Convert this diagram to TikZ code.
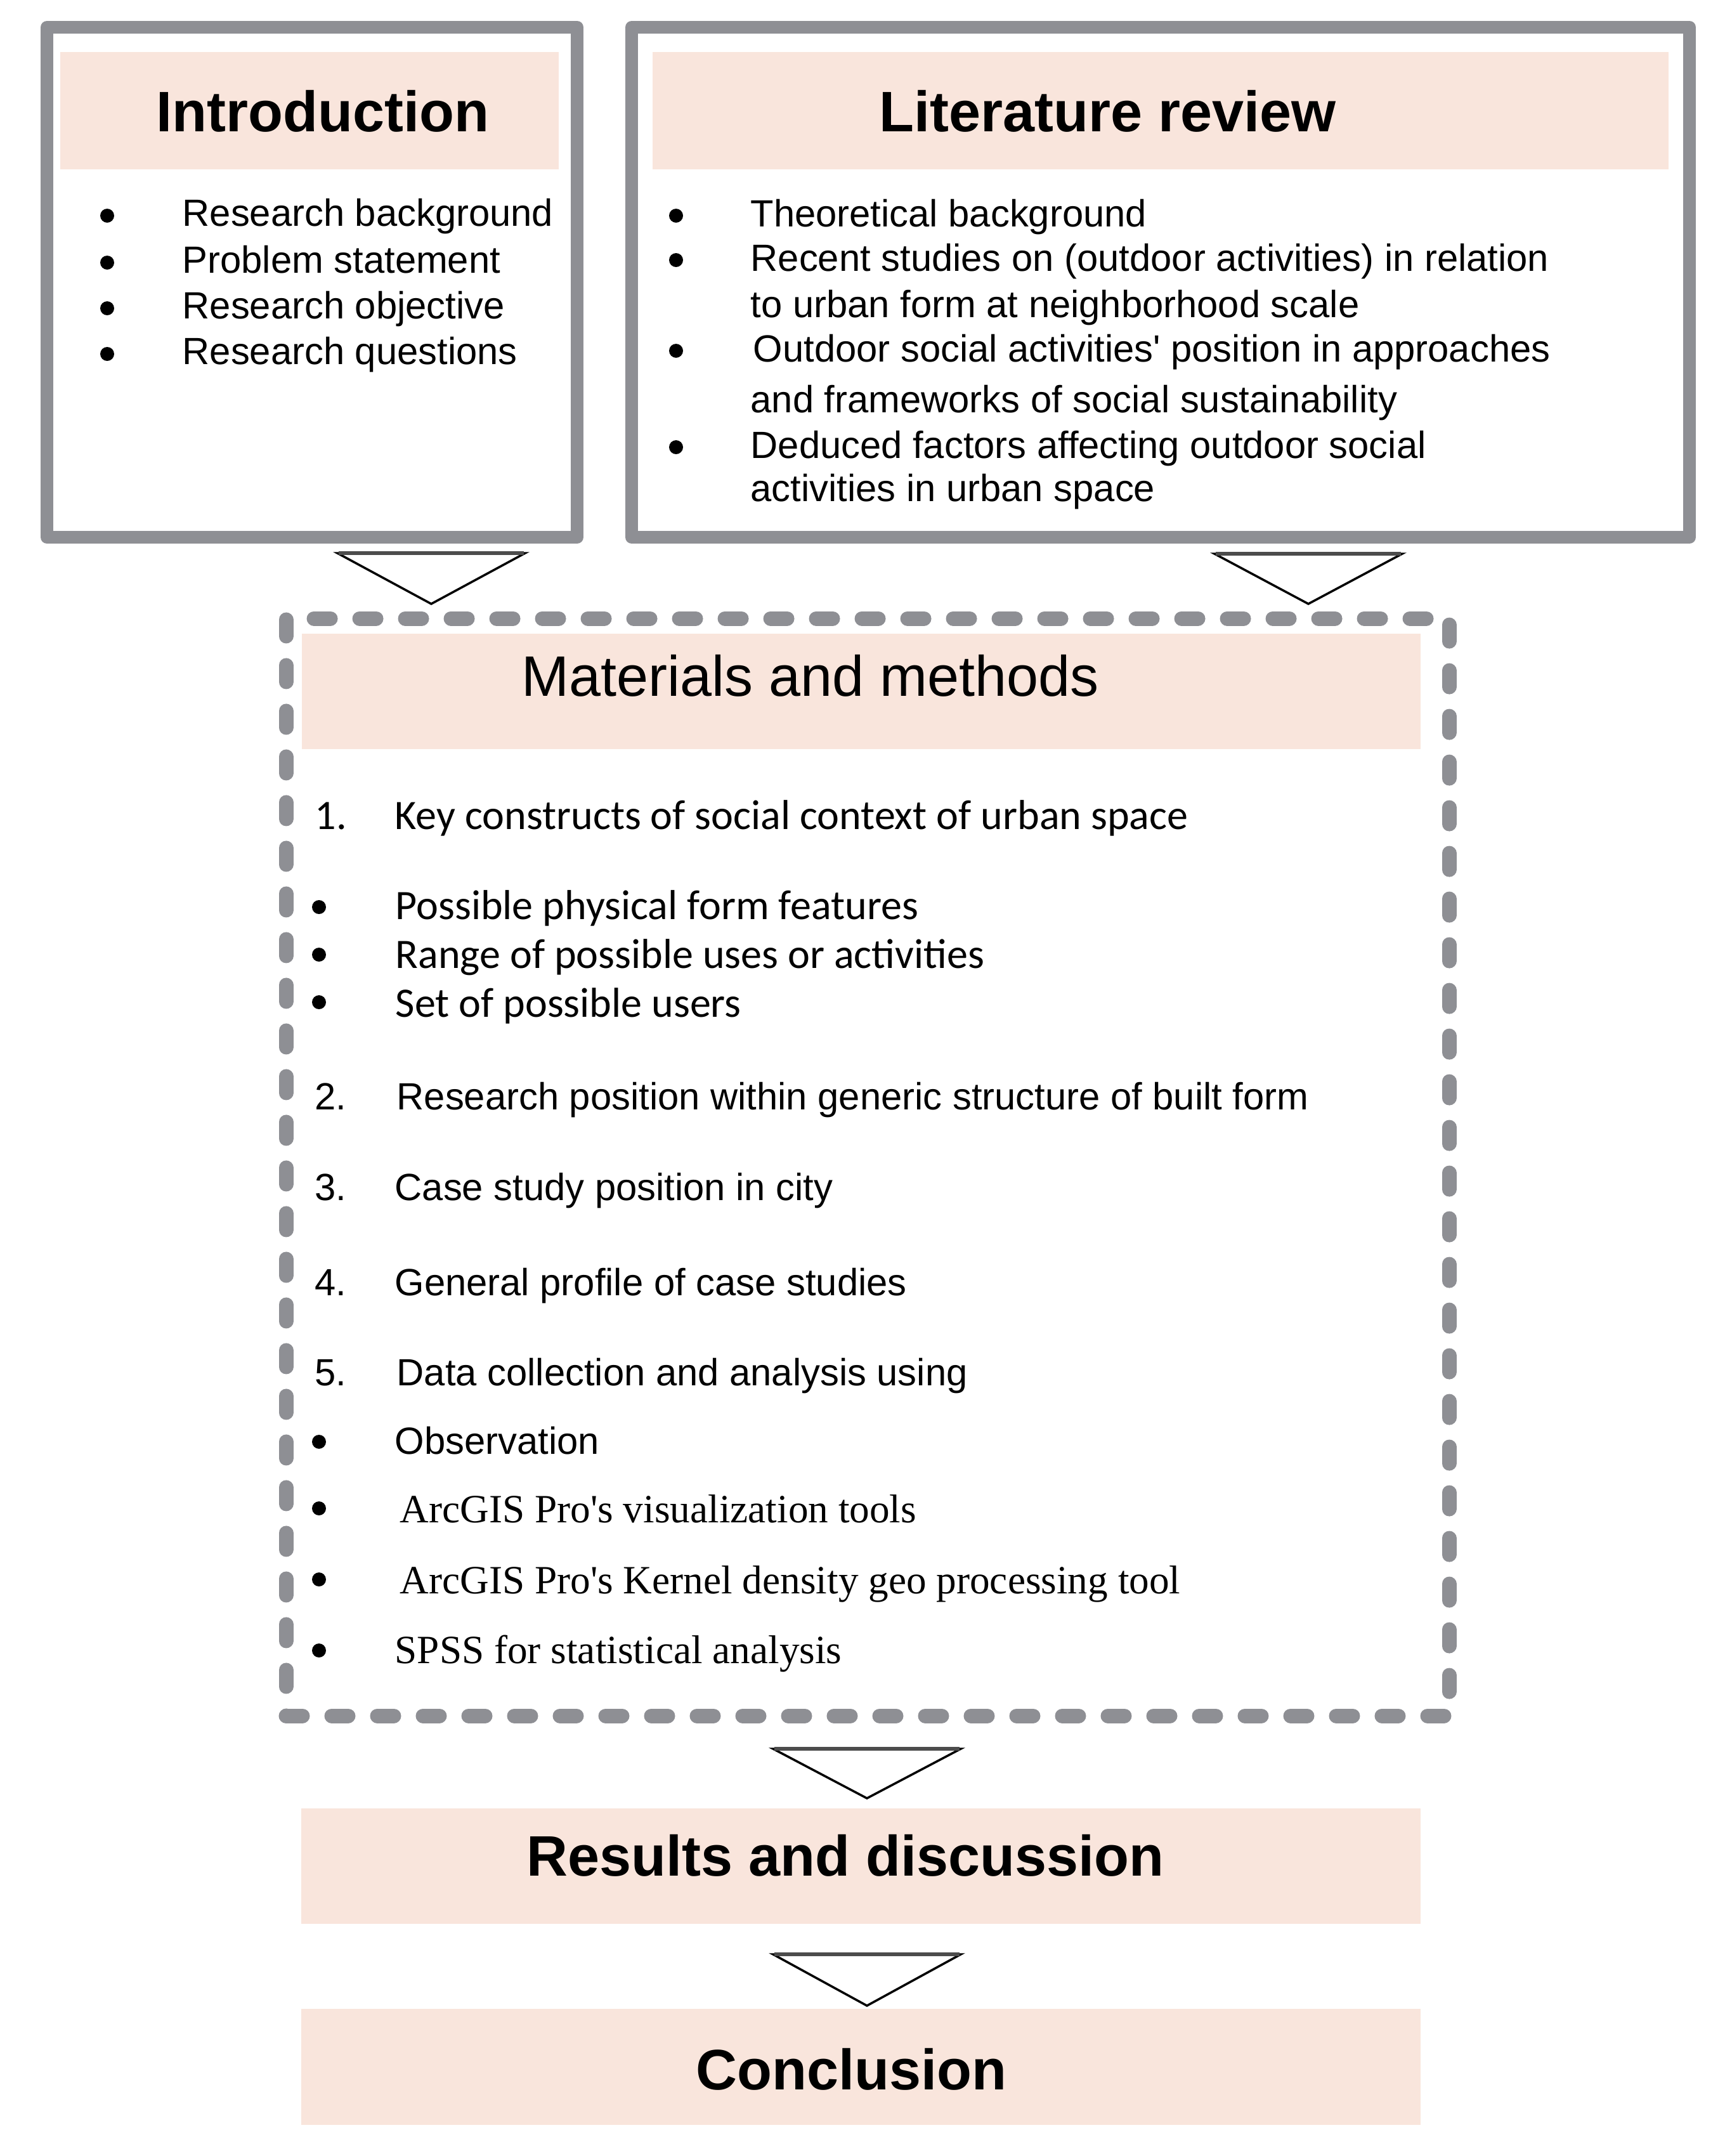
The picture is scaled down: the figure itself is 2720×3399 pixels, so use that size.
\documentclass[tikz,border=0pt]{standalone}
\usepackage{fontspec}
\setmainfont{Liberation Sans}
\newfontfamily\calibf{Carlito}
\newfontfamily\timesf{Liberation Serif}
\usetikzlibrary{calc,fit}
\definecolor{pinkbg}{RGB}{249,229,220}
\definecolor{framegray}{RGB}{142,143,148}
\begin{document}
\begin{tikzpicture}[x=0.1mm,y=-0.1mm,
  hdr/.style={fill=pinkbg, draw=none, inner sep=0},
  frame/.style={draw=framegray, line width=2mm, line join=round, inner sep=0},
  dashframe/.style={draw=framegray, line width=2.3mm, line cap=round, dash pattern=on 2.6mm off 4.6mm, inner sep=0},
  titleb/.style={anchor=base west, inner sep=0, font=\fontsize{25.6}{30}\selectfont\bfseries},
  titler/.style={anchor=base west, inner sep=0, font=\fontsize{25.6}{30}\selectfont},
  txt/.style={anchor=base west, inner sep=0, font=\fontsize{17}{20}\selectfont},
  ctxt/.style={anchor=base west, inner sep=0, font=\calibf\fontsize{18.8}{22}\selectfont},
  ttxt/.style={anchor=base west, inner sep=0, font=\timesf\fontsize{18}{22}\selectfont},
  dot/.style={circle, fill=black, draw=none, inner sep=0, minimum size=2.2mm},
  tri/.style={draw=black, line width=0.35mm, line join=miter, fill=white},
  tritop/.style={draw=black!70, line width=0.6mm}
]
\fill[white] (0,0) rectangle (2720,3399);
\useasboundingbox (0,0) rectangle (2720,3399);

% ---- Introduction ----
\node (intro) [frame, fit={(74,43) (910,847)}] {};
\node (introH) [hdr, fit={(95,82) (881,267)}] {};
\node (introT) [titleb] at (246,207) {Introduction};
\node (ib1) [dot] at (169,340) {};
\node (ib2) [dot] at (169,414) {};
\node (ib3) [dot] at (169,486) {};
\node (ib4) [dot] at (169,558) {};
\node (it1) [txt] at (287,356) {Research background};
\node (it2) [txt] at (287,430) {Problem statement};
\node (it3) [txt] at (287,502) {Research objective};
\node (it4) [txt] at (287,574) {Research questions};

% ---- Literature review ----
\node (lit) [frame, fit={(996,43) (2664,847)}] {};
\node (litH) [hdr, fit={(1029,82) (2631,267)}] {};
\node (litT) [titleb] at (1386,207) {Literature review};
\node (lb1) [dot] at (1066,340) {};
\node (lb2) [dot] at (1066,410) {};
\node (lb3) [dot] at (1066,553) {};
\node (lb4) [dot] at (1066,705) {};
\node (lt1) [txt] at (1183,357) {Theoretical background};
\node (lt2) [txt] at (1183,427) {Recent studies on (outdoor activities) in relation};
\node (lt3) [txt] at (1183,500) {to urban form at neighborhood scale};
\node (lt4) [txt] at (1187,570) {Outdoor social activities\textquotesingle{} position in approaches};
\node (lt5) [txt] at (1183,650) {and frameworks of social sustainability};
\node (lt6) [txt] at (1183,722) {Deduced factors affecting outdoor social};
\node (lt7) [txt] at (1183,790) {activities in urban space};

% ---- Materials and methods ----
\node (methH) [hdr, fit={(476,999) (2240,1181)}] {};
\node (methT) [titler] at (822,1097) {Materials and methods};
\node (m1n) [ctxt] at (496,1307) {1.};
\node (m1) [ctxt] at (622,1307) {Key constructs of social context of urban space};
\node (mb1) [dot] at (503,1430) {};
\node (mb2) [dot] at (503,1505) {};
\node (mb3) [dot] at (503,1580) {};
\node (m1a) [ctxt] at (623,1449) {Possible physical form features};
\node (m1b) [ctxt] at (623,1526) {Range of possible uses or activities};
\node (m1c) [ctxt] at (623,1603) {Set of possible users};
\node (m2n) [txt] at (496,1749) {2.};
\node (m2) [txt] at (625,1749) {Research position within generic structure of built form};
\node (m3n) [txt] at (496,1892) {3.};
\node (m3) [txt] at (622,1892) {Case study position in city};
\node (m4n) [txt] at (496,2042) {4.};
\node (m4) [txt] at (622,2042) {General profile of case studies};
\node (m5n) [txt] at (496,2184) {5.};
\node (m5) [txt] at (625,2184) {Data collection and analysis using};
\node (mb4) [dot] at (503,2273) {};
\node (m5a) [txt] at (622,2292) {Observation};
\node (mb5) [dot] at (503,2378) {};
\node (m5b) [ttxt] at (630,2400) {ArcGIS Pro\textquotesingle{}s visualization tools};
\node (mb6) [dot] at (503,2490) {};
\node (m5c) [ttxt] at (630,2512) {ArcGIS Pro\textquotesingle{}s Kernel density geo processing tool};
\node (mb7) [dot] at (503,2602) {};
\node (m5d) [ttxt] at (622,2622) {SPSS for statistical analysis};
\node (meth) [dashframe, fit={(451,975) (2285,2705)}] {};

% ---- Results and Conclusion ----
\node (resH) [hdr, fit={(475,2851) (2240,3033)}] {};
\node (resT) [titleb] at (830,2957) {Results and discussion};
\node (conH) [hdr, fit={(475,3167) (2240,3350)}] {};
\node (conT) [titleb] at (1097,3294) {Conclusion};

% ---- Down triangles ----
\coordinate (a1) at (680,872);
\coordinate (a2) at (2063,873);
\coordinate (a3) at (1367,2757);
\coordinate (a4) at (1367,3081);
\foreach \c/\h in {a1/80,a2/79,a3/78,a4/81} {
  \draw[tri] ($(\c)+(-148,0)$) -- ($(\c)+(0,\h)$) -- ($(\c)+(148,0)$) -- cycle;
  \draw[tritop] ($(\c)+(-146,0)$) -- ($(\c)+(146,0)$);
}
\end{tikzpicture}
\end{document}
